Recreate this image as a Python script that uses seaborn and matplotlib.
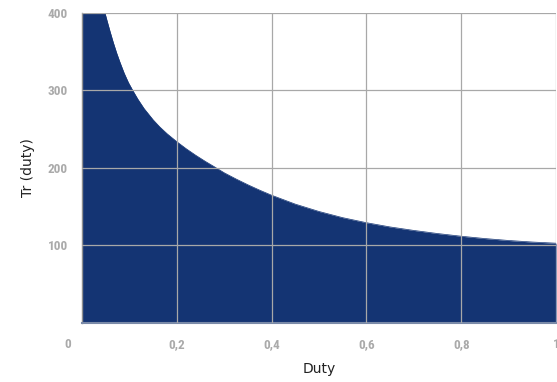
import numpy as np
import pandas as pd
import matplotlib
matplotlib.use("Agg")
import matplotlib.pyplot as plt
from matplotlib.font_manager import FontProperties
import seaborn as sns

# values
duty = [0.0, 0.0485, 0.053, 0.059, 0.066, 0.073, 0.080, 0.089, 0.098, 0.107,
        0.118, 0.131, 0.150, 0.164, 0.18, 0.20, 0.22, 0.24, 0.26, 0.28, 0.30,
        0.325, 0.35, 0.375, 0.40, 0.45, 0.50, 0.55, 0.60, 0.65, 0.70, 0.75,
        0.80, 0.85, 0.90, 0.95, 1.00]
tr = [400, 400, 389.7, 376.5, 361.9, 348.5, 336.5, 322.2, 310, 300,
      288.5, 276.5, 262, 252.8, 243.7, 233.7, 224.5, 216.1, 208.3, 201, 193.5,
      185.5, 178, 171, 164.5, 153, 143.5, 135.5, 129, 123.5, 119, 115,
      111.5, 108.5, 106, 104, 102.5]

x_ticks = [0.2, 0.4, 0.6, 0.8, 1.0]
x_labels = ["0,2", "0,4", "0,6", "0,8", "1"]
y_ticks = [100, 200, 300, 400]

df = pd.DataFrame({"Duty": duty, "Tr": tr})

fill_color = "#143473"
tick_color = "#aaaaaa"

sns.set_style("white")

fig = plt.figure(figsize=(5.57, 3.82), dpi=100)
ax = fig.add_axes([82 / 557, 1 - 322.5 / 382, 474 / 557, 309.5 / 382])

sns.lineplot(data=df, x="Duty", y="Tr", ax=ax, color=fill_color, linewidth=0.5)
ax.fill_between(df["Duty"], df["Tr"], 0, color=fill_color, linewidth=0, zorder=1)

ax.set_xlim(0, 1)
ax.set_ylim(0, 400)

ax.set_xticks(x_ticks)
ax.set_xticklabels(x_labels)
ax.set_yticks(y_ticks)

tick_fams = ["Liberation Sans Narrow", "DejaVu Sans Condensed", "Roboto Condensed", "Roboto"]
tick_fp = FontProperties(family=tick_fams, weight="bold", size=9.5)
for lab in ax.get_xticklabels() + ax.get_yticklabels():
    lab.set_fontproperties(tick_fp)
    lab.set_color(tick_color)
ax.tick_params(axis="both", length=0)
ax.tick_params(axis="x", pad=11)
ax.tick_params(axis="y", pad=10)

# origin label sits at the corner
ax.annotate("0", xy=(0, 0), xycoords="data", xytext=(-10, -11), textcoords="offset points",
            ha="center", va="top", color=tick_color, fontproperties=tick_fp)

ax.grid(True, color="#a8a8a8", linewidth=0.9, zorder=3)
ax.set_axisbelow(False)
ax.get_lines()[0].set_zorder(2)

for side in ["top", "right"]:
    ax.spines[side].set_visible(False)
ax.spines["left"].set_color("#909090")
ax.spines["bottom"].set_color("#7a8aa8")
ax.spines["bottom"].set_linewidth(1.5)
ax.spines["left"].set_linewidth(1.0)

ax.set_xlabel("Duty", fontsize=10, color="#222222", labelpad=8)
ax.set_ylabel("Tr (duty)", fontsize=10, color="#222222", labelpad=9)

fig.savefig("out.png", dpi=100)
